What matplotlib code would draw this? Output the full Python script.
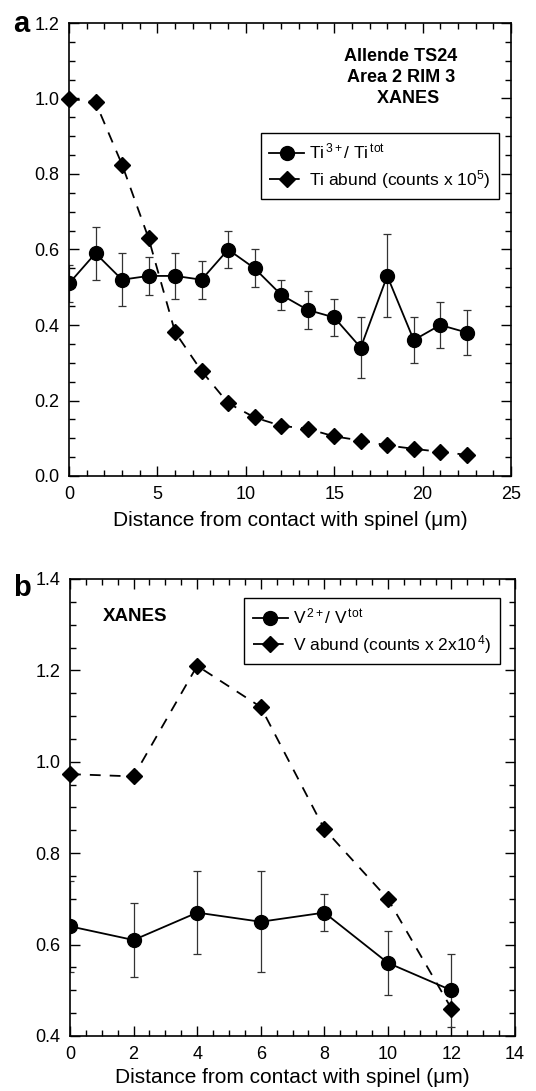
import matplotlib
matplotlib.use('Agg')
import matplotlib.pyplot as plt
from matplotlib.ticker import MultipleLocator

plt.rcParams['font.family'] = ['Liberation Sans', 'DejaVu Sans']
plt.rcParams['mathtext.fontset'] = 'custom'
plt.rcParams['mathtext.rm'] = 'Liberation Sans'
plt.rcParams['mathtext.it'] = 'Liberation Sans'

# Panel a: Ti
dist_a = [0, 1.5, 3, 4.5, 6, 7.5, 9, 10.5, 12, 13.5, 15, 16.5, 18, 19.5, 21, 22.5]
ti_ratio = [0.51, 0.59, 0.52, 0.53, 0.53, 0.52, 0.60, 0.55, 0.48, 0.44, 0.42, 0.34, 0.53, 0.36, 0.40, 0.38]
ti_err = [0.05, 0.07, 0.07, 0.05, 0.06, 0.05, 0.05, 0.05, 0.04, 0.05, 0.05, 0.08, 0.11, 0.06, 0.06, 0.06]
ti_abund = [1.0, 0.99, 0.825, 0.63, 0.381, 0.278, 0.193, 0.155, 0.133, 0.125, 0.105, 0.094, 0.081, 0.072, 0.064, 0.056]

# Panel b: V
dist_b = [0, 2, 4, 6, 8, 10, 12]
v_ratio = [0.64, 0.61, 0.67, 0.65, 0.67, 0.56, 0.50]
v_err = [0.10, 0.08, 0.09, 0.11, 0.04, 0.07, 0.08]
v_abund = [0.973, 0.968, 1.21, 1.12, 0.853, 0.70, 0.46]

fig = plt.figure(figsize=(5.36, 10.91), dpi=100)
W, H = 536, 1091
ax1 = fig.add_axes([69 / W, 1 - 476 / H, 442 / W, 453 / H])
ax2 = fig.add_axes([70 / W, 1 - 1036 / H, 445 / W, 457 / H])


def style(ax):
    ax.tick_params(which='both', direction='in', top=True, right=True,
                   labelsize=13, width=1.0)
    ax.tick_params(which='major', length=7)
    ax.tick_params(which='minor', length=4)
    ax.tick_params(axis='x', pad=7)
    ax.tick_params(axis='y', pad=7)
    for s in ax.spines.values():
        s.set_linewidth(1.2)


def draw(ax, x, ratio, err, abund, lab1, lab2):
    ax.errorbar(x, ratio, yerr=err, fmt='none', ecolor='#333333',
                elinewidth=0.9, capsize=3, capthick=0.9, zorder=2)
    ax.plot(x, ratio, '-', color='black', lw=1.3, marker='o', ms=10,
            label=lab1, zorder=3)
    ax.plot(x, abund, color='black', lw=1.3, ls=(0, (6, 5)), marker='D',
            ms=8, label=lab2, zorder=3, clip_on=False)


def legend(ax, anchor):
    leg = ax.legend(loc='upper right', bbox_to_anchor=anchor, fontsize=12.5,
                    frameon=True, fancybox=False, edgecolor='black', framealpha=1,
                    handlelength=2.0, handletextpad=0.3, borderpad=0.5,
                    labelspacing=0.35, borderaxespad=0)
    leg.get_frame().set_linewidth(1.0)


draw(ax1, dist_a, ti_ratio, ti_err, ti_abund,
     r'Ti$^{\,3+}$/ Ti$^{\,tot}$', r'Ti abund (counts x 10$^{5}$)')
ax1.set_xlim(0, 25)
ax1.set_ylim(0, 1.2)
ax1.xaxis.set_major_locator(MultipleLocator(5))
ax1.xaxis.set_minor_locator(MultipleLocator(1))
ax1.yaxis.set_major_locator(MultipleLocator(0.2))
ax1.yaxis.set_minor_locator(MultipleLocator(0.05))
ax1.yaxis.set_major_formatter(plt.FormatStrFormatter('%.1f'))
style(ax1)
ax1.set_xlabel('Distance from contact with spinel (μm)', fontsize=15, labelpad=6)
ax1.text(0.751, 0.879, 'Allende TS24\nArea 2 RIM 3\n   XANES', transform=ax1.transAxes,
         ha='center', va='center', fontsize=13, fontweight='bold', linespacing=1.3)
legend(ax1, (0.973, 0.757))

draw(ax2, dist_b, v_ratio, v_err, v_abund,
     r'V$^{\,2+}$/ V$^{\,tot}$', r'V abund (counts x 2x10$^{\,4}$)')
ax2.set_xlim(0, 14)
ax2.set_ylim(0.4, 1.4)
ax2.xaxis.set_major_locator(MultipleLocator(2))
ax2.xaxis.set_minor_locator(MultipleLocator(0.5))
ax2.yaxis.set_major_locator(MultipleLocator(0.2))
ax2.yaxis.set_minor_locator(MultipleLocator(0.05))
ax2.yaxis.set_major_formatter(plt.FormatStrFormatter('%.1f'))
style(ax2)
ax2.set_xlabel('Distance from contact with spinel (μm)', fontsize=15, labelpad=4)
ax2.text(0.146, 0.917, 'XANES', transform=ax2.transAxes, ha='center', va='center',
         fontsize=13.5, fontweight='bold')
legend(ax2, (0.966, 0.958))

fig.text(21 / W, 1 - 24 / H, 'a', fontsize=21, fontweight='bold', ha='center', va='center')
fig.text(22 / W, 1 - 588 / H, 'b', fontsize=21, fontweight='bold', ha='center', va='center')

fig.savefig('out.png', dpi=100)
